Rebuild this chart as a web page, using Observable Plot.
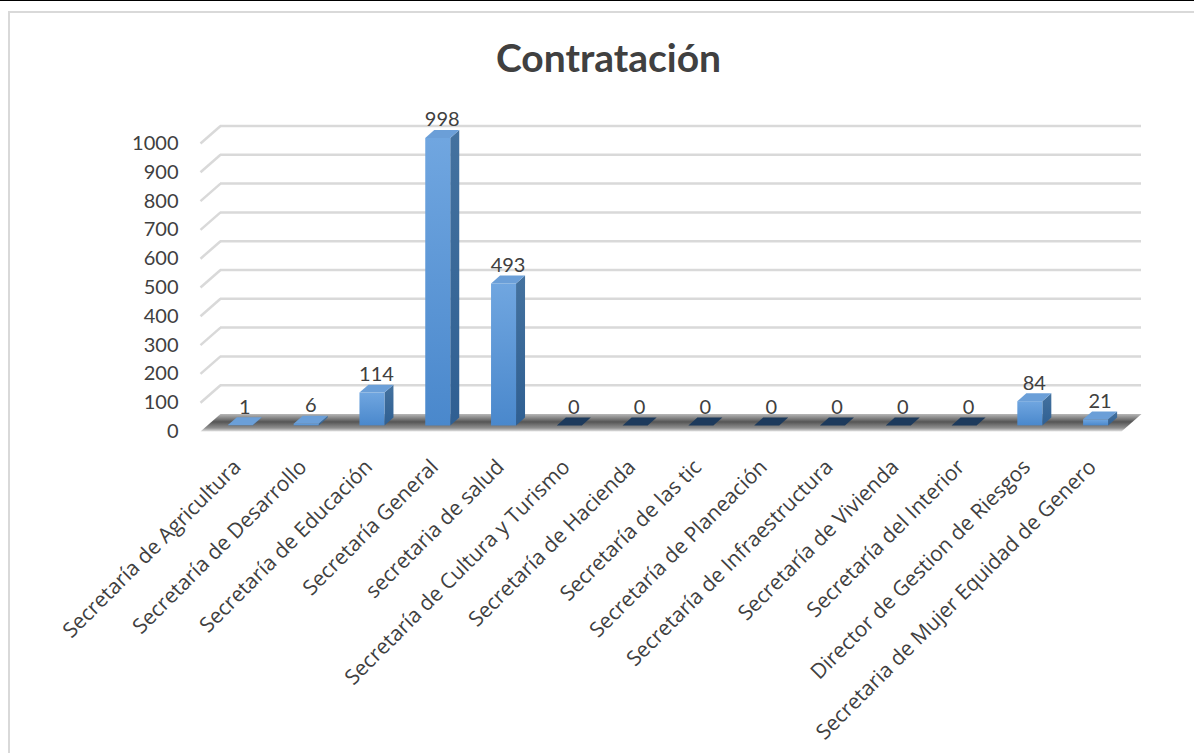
<!DOCTYPE html>
<html><head><meta charset="utf-8">
<script src="https://cdn.jsdelivr.net/npm/d3@7"></script>
<script src="https://cdn.jsdelivr.net/npm/@observablehq/plot@0.6"></script>
<style>
body{margin:0;background:#fff;}
#page{position:relative;width:1194px;height:753px;overflow:hidden;border-top:1px solid #000;box-sizing:border-box;font-family:Lato,"Open Sans",sans-serif;}
#frame{position:absolute;left:8px;top:10px;width:1220px;height:780px;border:2px solid #d9d9d9;box-sizing:border-box;}
#title{position:absolute;left:0;top:36px;width:1217px;text-align:center;font-size:39px;line-height:40px;font-weight:bold;color:#404040;}
#chart{position:absolute;left:0;top:99px;}
</style></head>
<body>
<div id="page">
  <div id="frame"></div>
  <div id="title">Contratación</div>
  <div id="chart"></div>
</div>
<script>
const categories = [
  "Secretaría de Agricultura",
  "Secretaría de Desarrollo",
  "Secretaría de Educación",
  "Secretaría General",
  "secretaria de salud",
  "Secretaría de Cultura y Turismo",
  "Secretaría de Hacienda",
  "Secretaría de las tic",
  "Secretaría de Planeación",
  "Secretaría de Infraestructura",
  "Secretaría de Vivienda",
  "Secretaría del Interior",
  "Director de Gestion de Riesgos",
  "Secretaria de Mujer Equidad de Genero"
];
const values = [1, 6, 114, 998, 493, 0, 0, 0, 0, 0, 0, 0, 84, 21];
const yTicks = [0, 100, 200, 300, 400, 500, 600, 700, 800, 900, 1000];

const W = 1194, H = 654, mL = 200, mR = 73, mT = 43, mB = 323;
const n = categories.length;
const plotW = W - mL - mR, plotH = H - mT - mB;
const ymax = 1000;
const ux = 20 / (plotW / n), uy = 17.5 / (plotH / ymax);
const bw = 0.38, d0 = 0.35, d1 = 0.8;

const rows = categories.map((c, i) => ({c, i, v: values[i]}));
const frontFaces = [], sideFaces = [], topFaces = [];
rows.forEach(({i, v}) => {
  const x0 = i + (1 - bw) / 2, x1 = x0 + bw;
  const a = d0, b = d1;
  if (v > 0) {
    [[x0 + a*ux, a*uy], [x1 + a*ux, a*uy], [x1 + a*ux, v + a*uy], [x0 + a*ux, v + a*uy]]
      .forEach(([x, y]) => frontFaces.push({id: i, x, y}));
    [[x1 + a*ux, a*uy], [x1 + b*ux, b*uy], [x1 + b*ux, v + b*uy], [x1 + a*ux, v + a*uy]]
      .forEach(([x, y]) => sideFaces.push({id: i, x, y}));
  }
  [[x0 + a*ux, v + a*uy], [x1 + a*ux, v + a*uy], [x1 + b*ux, v + b*uy], [x0 + b*ux, v + b*uy]]
    .forEach(([x, y]) => topFaces.push({id: i, x, y, f: v === 0 ? "#1d3a5c" : "#6b9fd8"}));
});
const floorPoly = [[0, 0], [n, 0], [n + ux, uy], [ux, uy]].map(([x, y]) => ({x, y}));
const gridTicks = yTicks.filter(t => t > 0);

const chart = Plot.plot({
  width: W, height: H,
  marginLeft: mL, marginRight: mR, marginTop: mT, marginBottom: mB,
  style: {background: "transparent", color: "#404040", fontFamily: "Lato, 'Open Sans', sans-serif", overflow: "visible"},
  x: {domain: [0, n], axis: null},
  y: {domain: [0, ymax], axis: null},
  marks: [
    Plot.ruleY(gridTicks, {y: t => t + uy, x1: () => ux, x2: () => n + ux, stroke: "#d9d9d9", strokeWidth: 2.5}),
    Plot.link(gridTicks, {x1: () => 0, y1: t => t, x2: () => ux, y2: t => t + uy, stroke: "#d9d9d9", strokeWidth: 2.5}),
    Plot.line(floorPoly, {x: "x", y: "y", fill: "url(#floorGrad)", stroke: "none"}),
    Plot.line(sideFaces, {x: "x", y: "y", z: "id", fill: "url(#sideGrad)", stroke: "none"}),
    Plot.line(frontFaces, {x: "x", y: "y", z: "id", fill: "url(#frontGrad)", stroke: "none"}),
    Plot.line(topFaces, {x: "x", y: "y", z: "id", fill: "f", stroke: "none"}),
    Plot.axisY(yTicks, {anchor: "left", label: null, tickSize: 0, tickPadding: 22, fontSize: 20, tickFormat: d => `${d}`}),
    Plot.text(rows, {x: d => d.i + 0.5 + ((d0 + d1) / 2) * ux, y: d => d.v + d1 * uy, text: d => `${d.v}`, dy: -10, fontSize: 20, fill: "#404040"}),
    Plot.text(rows, {x: d => d.i + 0.5, y: () => 0, text: "c", rotate: -45, textAnchor: "end", lineAnchor: "middle", dx: 4, dy: 32, fontSize: 21, fontFamily: "'Open Sans', sans-serif", fill: "#404040"})
  ]
});

const defs = document.createElementNS("http://www.w3.org/2000/svg", "defs");
defs.innerHTML = `
<linearGradient id="frontGrad" x1="0" y1="0" x2="0" y2="1">
  <stop offset="0" stop-color="#70a6e0"/><stop offset="1" stop-color="#4a88cc"/>
</linearGradient>
<linearGradient id="sideGrad" x1="0" y1="0" x2="0" y2="1">
  <stop offset="0" stop-color="#44729f"/><stop offset="1" stop-color="#2f5f92"/>
</linearGradient>
<linearGradient id="floorGrad" x1="0" y1="0" x2="0" y2="1">
  <stop offset="0" stop-color="#b8b8b8"/><stop offset="0.45" stop-color="#555555"/><stop offset="0.8" stop-color="#909090"/><stop offset="1" stop-color="#e4e4e4"/>
</linearGradient>`;
chart.insertBefore(defs, chart.firstChild);
document.getElementById("chart").appendChild(chart);
</script>
</body></html>
